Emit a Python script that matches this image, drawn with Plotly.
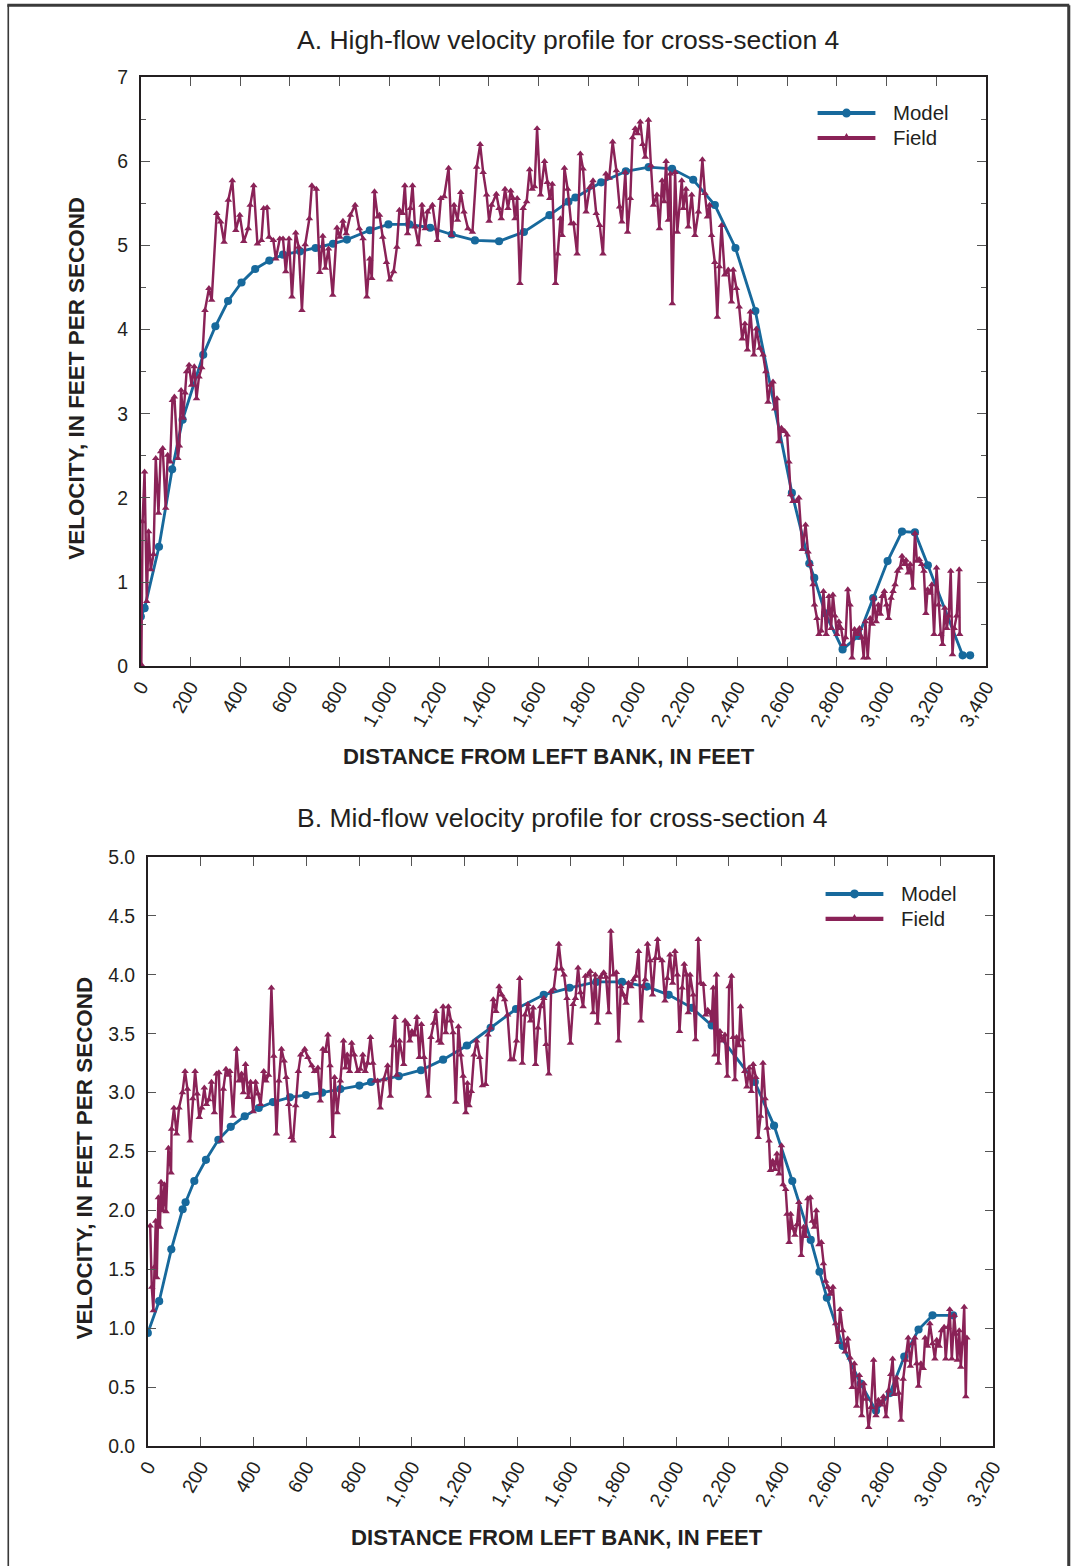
import plotly.graph_objects as go

# ---------------- Panel A: high flow ----------------
model_a_x = [0, 15, 73, 126, 168, 251, 300, 351, 405, 460, 517, 572, 641, 703, 773, 829,
             921, 996, 1080, 1164, 1251, 1344, 1441, 1541, 1644, 1720, 1748, 1852, 1951,
             2043, 2137, 2222, 2309, 2392, 2472, 2619, 2689, 2709, 2753, 2823, 2887, 2946,
             3004, 3062, 3114, 3166, 3306, 3336]
model_a_v = [0.59, 0.69, 1.42, 2.34, 2.93, 3.70, 4.04, 4.34, 4.56, 4.72, 4.82, 4.89, 4.93,
             4.97, 5.02, 5.07, 5.18, 5.25, 5.25, 5.21, 5.13, 5.06, 5.05, 5.16, 5.36, 5.52,
             5.57, 5.75, 5.88, 5.93, 5.91, 5.78, 5.48, 4.97, 4.22, 2.06, 1.22, 1.05, 0.63,
             0.20, 0.36, 0.81, 1.25, 1.60, 1.59, 1.20, 0.13, 0.13]

field_a_x = [2, 7, 15, 24, 31, 40, 51, 60, 71, 80, 88, 100, 108, 118, 127, 135, 149, 155,
             162, 170, 178, 184, 194, 204, 215, 224, 234, 245, 258, 274, 285, 305, 321, 335,
             352, 368, 382, 398, 414, 432, 440, 454, 469, 485, 494, 508, 516, 533, 543, 559,
             572, 583, 596, 608, 623, 635, 648, 661, 678, 688, 706, 720, 732, 742, 755, 772,
             789, 801, 813, 826, 843, 862, 879, 894, 909, 921, 929, 940, 953, 960, 973, 988,
             1001, 1017, 1030, 1040, 1053, 1062, 1073, 1084, 1093, 1103, 1117, 1131, 1144,
             1153, 1173, 1193, 1207, 1220, 1238, 1250, 1260, 1274, 1287, 1300, 1316, 1334,
             1351, 1365, 1377, 1391, 1401, 1411, 1430, 1441, 1450, 1465, 1477, 1488, 1497,
             1505, 1514, 1525, 1538, 1552, 1564, 1574, 1584, 1594, 1608, 1624, 1635, 1645,
             1655, 1668, 1677, 1688, 1695, 1704, 1717, 1731, 1741, 1755, 1768, 1779, 1791,
             1806, 1819, 1832, 1846, 1859, 1871, 1884, 1898, 1913, 1926, 1935, 1949, 1958,
             1969, 1978, 1989, 1998, 2009, 2019, 2029, 2042, 2052, 2062, 2076, 2086, 2097,
             2105, 2113, 2122, 2130, 2138, 2149, 2158, 2176, 2182, 2193, 2202, 2216, 2229,
             2243, 2259, 2269, 2279, 2288, 2296, 2309, 2319, 2327, 2336, 2349, 2363, 2376,
             2383, 2396, 2407, 2419, 2430, 2440, 2452, 2466, 2476, 2490, 2503, 2514, 2523,
             2533, 2543, 2550, 2559, 2567, 2577, 2590, 2600, 2607, 2614, 2623, 2637, 2647,
             2661, 2674, 2684, 2693, 2704, 2710, 2720, 2728, 2737, 2746, 2757, 2768, 2777,
             2784, 2792, 2800, 2808, 2817, 2827, 2835, 2844, 2853, 2861, 2871, 2881, 2891,
             2900, 2908, 2915, 2924, 2934, 2942, 2948, 2958, 2967, 2975, 2982, 2991, 3000,
             3008, 3018, 3026, 3034, 3044, 3054, 3062, 3071, 3078, 3087, 3095, 3105, 3114,
             3122, 3131, 3141, 3150, 3158, 3165, 3174, 3182, 3191, 3201, 3209, 3218, 3225,
             3234, 3242, 3250, 3258, 3265, 3272, 3282, 3292, 3294]
field_a_v = [0.02, 1.72, 2.31, 0.77, 1.60, 1.15, 1.33, 2.47, 1.82, 2.55, 2.59, 1.88, 2.51,
             2.43, 3.16, 3.20, 2.47, 2.62, 3.28, 2.95, 3.25, 3.50, 3.58, 3.34, 3.56, 3.18,
             3.44, 3.55, 4.23, 4.49, 4.35, 5.38, 5.28, 5.04, 5.54, 5.77, 5.18, 5.36, 5.05,
             5.20, 5.48, 5.71, 5.02, 5.06, 5.44, 5.45, 5.10, 5.06, 4.84, 5.08, 5.08, 4.69,
             5.08, 4.39, 5.15, 4.98, 4.23, 5.01, 5.32, 5.71, 5.67, 4.68, 5.11, 4.73, 4.96,
             4.41, 5.21, 5.10, 5.29, 5.14, 5.36, 5.48, 5.20, 5.08, 4.39, 4.84, 4.61, 5.64,
             5.34, 5.36, 5.10, 4.80, 4.59, 4.69, 4.98, 5.42, 5.38, 5.71, 5.14, 5.44, 5.71,
             5.22, 5.01, 5.48, 5.20, 5.40, 5.48, 5.06, 5.56, 5.58, 5.92, 5.12, 5.48, 5.30,
             5.63, 5.40, 5.20, 5.16, 5.93, 6.20, 5.87, 5.60, 5.29, 5.48, 5.61, 5.44, 5.32,
             5.67, 5.44, 5.65, 5.56, 5.32, 5.56, 4.55, 5.44, 5.52, 5.90, 5.67, 5.70, 6.39,
             5.60, 6.00, 5.75, 5.56, 5.73, 4.55, 4.90, 5.32, 5.12, 5.92, 5.67, 5.26, 5.26,
             4.90, 6.09, 5.91, 5.40, 5.69, 5.77, 5.38, 5.24, 4.90, 5.85, 5.80, 6.23, 5.89,
             5.46, 5.28, 5.87, 5.16, 5.56, 6.28, 6.39, 6.33, 6.47, 6.20, 6.05, 6.49, 5.95,
             5.48, 5.60, 5.20, 5.77, 5.52, 6.00, 5.30, 5.85, 4.31, 5.87, 5.16, 5.77, 5.44,
             5.67, 5.22, 5.60, 5.12, 5.40, 6.02, 5.62, 5.34, 5.48, 5.12, 4.80, 4.15, 4.75,
             5.24, 4.65, 4.71, 4.33, 4.71, 4.49, 4.27, 3.89, 4.07, 3.76, 4.21, 3.70, 4.01,
             3.78, 3.70, 3.50, 3.14, 3.34, 3.38, 3.06, 3.18, 2.67, 2.83, 2.79, 2.75, 2.43,
             2.04, 1.96, 1.96, 2.00, 1.39, 1.68, 1.36, 1.21, 0.97, 0.73, 0.57, 0.38, 0.42,
             0.89, 0.38, 0.83, 0.45, 0.85, 0.60, 0.38, 0.53, 0.45, 0.26, 0.34, 0.91, 0.73,
             0.10, 0.44, 0.38, 0.45, 0.34, 0.10, 0.53, 0.10, 0.57, 0.50, 0.81, 0.53, 0.73,
             0.62, 0.83, 0.89, 0.73, 0.57, 0.81, 0.89, 0.97, 1.13, 1.17, 1.31, 1.21, 1.26,
             1.11, 1.21, 0.93, 1.58, 1.25, 1.27, 1.21, 1.13, 0.63, 0.91, 0.87, 0.97, 0.38,
             1.17, 0.73, 0.38, 0.26, 0.69, 0.45, 0.60, 1.13, 0.14, 0.45, 0.60, 1.15, 0.38]

# ---------------- Panel B: mid flow ----------------
model_b_x = [0, 43, 89, 132, 143, 176, 220, 267, 314, 367, 420, 474, 538, 599, 660, 729,
             801, 845, 950, 1034, 1118, 1208, 1298, 1394, 1499, 1597, 1698, 1795, 1889,
             1972, 2060, 2135, 2298, 2371, 2440, 2510, 2543, 2571, 2631, 2699, 2757, 2810,
             2864, 2918, 2971, 3049]
model_b_v = [0.96, 1.23, 1.67, 2.01, 2.07, 2.25, 2.43, 2.60, 2.71, 2.80, 2.87, 2.92, 2.96,
             2.98, 3.00, 3.03, 3.06, 3.09, 3.14, 3.19, 3.28, 3.40, 3.55, 3.71, 3.83, 3.89,
             3.94, 3.94, 3.90, 3.83, 3.72, 3.57, 3.09, 2.72, 2.25, 1.75, 1.48, 1.26, 0.85,
             0.53, 0.30, 0.45, 0.76, 0.99, 1.11, 1.11]

field_b_x = [9, 15, 21, 25, 30, 34, 40, 46, 50, 57, 63, 69, 78, 88, 90, 99, 109, 118, 131,
             141, 150, 160, 170, 179, 187, 195, 204, 214, 222, 231, 241, 252, 260, 269, 277,
             286, 296, 305, 311, 323, 336, 345, 355, 362, 370, 380, 389, 399, 408, 417, 427,
             439, 447, 457, 468, 477, 487, 496, 506, 516, 524, 534, 543, 550, 560, 570, 579,
             594, 606, 621, 631, 644, 653, 663, 672, 682, 690, 700, 707, 717, 729, 741, 748,
             755, 764, 772, 782, 795, 804, 814, 823, 832, 843, 852, 860, 870, 880, 893, 908,
             918, 927, 936, 943, 953, 969, 974, 984, 992, 1000, 1009, 1019, 1028, 1036, 1046,
             1062, 1072, 1082, 1091, 1101, 1110, 1118, 1128, 1138, 1147, 1156, 1166, 1176,
             1185, 1194, 1204, 1210, 1216, 1225, 1235, 1245, 1257, 1267, 1279, 1288, 1298,
             1308, 1318, 1330, 1340, 1351, 1362, 1374, 1384, 1396, 1408, 1418, 1428, 1439,
             1449, 1459, 1468, 1477, 1487, 1499, 1508, 1518, 1527, 1537, 1546, 1556, 1566,
             1576, 1587, 1600, 1610, 1619, 1629, 1638, 1648, 1657, 1667, 1675, 1686, 1694,
             1703, 1714, 1726, 1735, 1745, 1753, 1763, 1774, 1782, 1791, 1801, 1811, 1820,
             1829, 1839, 1848, 1858, 1867, 1875, 1883, 1892, 1902, 1911, 1921, 1930, 1937,
             1947, 1958, 1967, 1977, 1987, 1996, 2005, 2013, 2023, 2031, 2040, 2046, 2053,
             2065, 2074, 2084, 2093, 2103, 2112, 2120, 2128, 2135, 2141, 2147, 2153, 2160,
             2166, 2176, 2185, 2194, 2201, 2210, 2216, 2223, 2229, 2238, 2244, 2251, 2260,
             2268, 2277, 2285, 2292, 2302, 2311, 2320, 2329, 2337, 2345, 2352, 2357, 2366,
             2374, 2382, 2390, 2399, 2405, 2415, 2420, 2428, 2434, 2442, 2450, 2458, 2465,
             2474, 2483, 2490, 2499, 2508, 2516, 2524, 2531, 2541, 2550, 2558, 2566, 2575,
             2584, 2594, 2604, 2613, 2621, 2631, 2640, 2650, 2659, 2667, 2675, 2684, 2694,
             2703, 2711, 2720, 2729, 2738, 2748, 2757, 2766, 2775, 2785, 2795, 2804, 2813,
             2820, 2826, 2835, 2843, 2852, 2860, 2870, 2879, 2887, 2896, 2904, 2911, 2918,
             2927, 2936, 2943, 2952, 2961, 2971, 2980, 2987, 2996, 3005, 3015, 3021, 3030,
             3036, 3044, 3053, 3059, 3065, 3072, 3078, 3084, 3091, 3097, 3101]
field_b_v = [1.87, 1.35, 1.15, 1.52, 1.91, 1.43, 2.11, 1.86, 2.24, 2.00, 2.22, 1.99, 2.53,
             2.32, 2.69, 2.87, 2.65, 2.87, 3.00, 3.18, 3.03, 2.59, 2.95, 3.18, 2.99, 2.79,
             2.87, 3.04, 2.90, 2.94, 3.09, 2.83, 3.16, 3.17, 2.59, 3.03, 3.20, 3.15, 3.18,
             2.80, 3.37, 3.10, 3.16, 3.00, 3.24, 2.96, 3.09, 2.84, 3.09, 2.99, 2.90, 3.18,
             3.10, 3.15, 3.89, 3.31, 2.65, 3.10, 3.37, 3.27, 3.13, 2.90, 2.62, 2.59, 2.89,
             3.18, 3.32, 3.37, 3.30, 3.23, 3.18, 3.21, 2.93, 3.37, 3.35, 3.49, 3.23, 2.63,
             3.13, 2.83, 3.10, 3.44, 3.21, 3.32, 3.18, 3.42, 3.32, 3.18, 3.20, 3.32, 3.18,
             3.25, 3.47, 3.25, 3.10, 3.10, 2.87, 3.11, 3.23, 2.97, 3.40, 3.64, 3.15, 3.44,
             3.24, 3.61, 3.58, 3.44, 3.52, 3.49, 3.64, 3.30, 3.58, 3.30, 2.97, 3.47, 3.59,
             3.69, 3.44, 3.42, 3.73, 3.51, 3.73, 3.61, 3.51, 2.92, 3.56, 3.32, 3.14, 2.83,
             3.08, 2.89, 3.01, 3.32, 3.44, 3.30, 3.06, 3.07, 3.49, 3.55, 3.79, 3.69, 3.90,
             3.83, 3.79, 3.66, 3.28, 3.28, 3.44, 3.97, 3.25, 3.66, 3.75, 3.61, 3.72, 3.24,
             3.55, 3.73, 3.80, 3.41, 3.16, 3.86, 3.88, 4.05, 4.26, 4.05, 4.00, 3.80, 3.42,
             3.75, 3.80, 4.06, 3.85, 3.73, 3.99, 4.00, 4.03, 3.68, 4.00, 3.59, 3.98, 4.02,
             3.98, 3.68, 4.37, 4.00, 4.02, 3.44, 3.90, 3.83, 3.76, 3.93, 3.90, 3.96, 3.99,
             4.20, 3.61, 3.90, 3.96, 4.26, 4.12, 3.83, 4.14, 4.30, 4.14, 4.12, 3.78, 3.97,
             4.17, 3.93, 4.20, 4.00, 3.52, 3.89, 4.09, 4.00, 3.68, 4.00, 3.83, 3.45, 4.30,
             3.93, 3.92, 3.66, 3.70, 3.68, 3.61, 3.89, 3.32, 4.00, 3.25, 3.52, 3.44, 3.49,
             3.14, 3.90, 3.99, 3.47, 3.11, 3.47, 3.40, 3.73, 3.45, 3.18, 3.05, 3.21, 3.01,
             3.24, 3.13, 2.62, 2.80, 3.25, 2.95, 2.70, 2.59, 2.34, 2.42, 2.35, 2.48, 2.31,
             2.55, 2.22, 2.18, 1.97, 1.73, 1.97, 1.85, 1.79, 1.88, 2.07, 1.62, 1.86, 1.78,
             2.10, 2.11, 1.91, 1.86, 2.00, 1.71, 1.73, 1.55, 1.40, 1.35, 1.29, 1.35, 1.04,
             0.88, 1.16, 0.98, 0.80, 0.91, 0.75, 0.50, 0.70, 0.34, 0.60, 0.26, 0.53, 0.40,
             0.16, 0.33, 0.73, 0.26, 0.39, 0.35, 0.42, 0.25, 0.47, 0.61, 0.74, 0.44, 0.58,
             0.45, 0.22, 0.57, 0.73, 0.92, 0.68, 0.87, 0.92, 0.70, 0.51, 0.70, 0.66, 0.92,
             0.85, 1.04, 0.87, 0.74, 0.90, 0.85, 0.98, 1.01, 0.74, 1.01, 1.16, 0.74, 1.11,
             0.95, 0.73, 0.98, 0.67, 0.87, 1.18, 0.42, 0.92]

# axis tick values
ticks_a_x = list(range(0, 3401, 200))
ticks_b_x = list(range(0, 3201, 200))
legend_labels = ["Model", "Field"]

BLUE = "#17699c"
MAROON = "#8a2257"
INK = "#231f20"
FONT = "Liberation Sans, Arial, sans-serif"

# Layout positions below are written in sheet pixels (1073 x 1566 sheet) and
# converted to paper fractions of the graph div, which sits inside the default
# 8 px body margin of the page.
BODY = 8
SX, AX = 0.98, 2.9      # sheet = AX + SX * page  (horizontal)
SY, AY = 0.9874, 0.9    # sheet = AY + SY * page  (vertical)
W = int(round((1073 - AX) / SX)) - 2 * BODY
H = int(round((1566 - AY) / SY)) - 2 * BODY
K = 1 / SX              # size factor for fonts, markers and strokes


def px(x):
    return ((x - AX) / SX - BODY) / W


def py(y):
    return 1 - ((y - AY) / SY - BODY) / H


fig = go.Figure()


def add_pair(mx, mv, fx, fv, xa, ya):
    fig.add_trace(go.Scatter(
        x=mx, y=mv, name=legend_labels[0], mode="lines+markers", xaxis=xa, yaxis=ya,
        line=dict(color=BLUE, width=2.8 * K), marker=dict(symbol="circle", size=8 * K, color=BLUE)))
    fig.add_trace(go.Scatter(
        x=fx, y=fv, name=legend_labels[1], mode="lines+markers", xaxis=xa, yaxis=ya,
        line=dict(color=MAROON, width=2.4 * K),
        marker=dict(symbol="triangle-up", size=6.5 * K, color=MAROON)))


add_pair(model_a_x, model_a_v, field_a_x, field_a_v, "x", "y")
add_pair(model_b_x, model_b_v, field_b_x, field_b_v, "x2", "y2")

common_axis = dict(
    showline=True, linecolor=INK, linewidth=1.6 * K, mirror="ticks", ticks="inside",
    tickcolor="#555555", tickwidth=1.2 * K, showgrid=False, zeroline=False,
    tickfont=dict(family=FONT, size=19 * K, color=INK),
)

fig.update_layout(
    width=W, height=H,
    margin=dict(l=0, r=0, t=0, b=0),
    paper_bgcolor="white", plot_bgcolor="white",
    font=dict(family=FONT, color=INK),
    showlegend=False,
    xaxis=dict(common_axis, domain=[px(139), px(987)], anchor="y", range=[0, 3400],
               tickvals=ticks_a_x, tickformat=",d", ticklen=9 * K, tickangle=-60),
    yaxis=dict(common_axis, domain=[py(665), py(75)], anchor="x", range=[0, 7],
               dtick=1, ticklen=9 * K, ticklabelstandoff=7,
               minor=dict(dtick=0.5, ticks="inside", ticklen=5 * K, tickcolor="#555555")),
    xaxis2=dict(common_axis, domain=[px(146), px(994)], anchor="y2", range=[0, 3200],
                tickvals=ticks_b_x, tickformat=",d", ticklen=9 * K, tickangle=-60),
    yaxis2=dict(common_axis, domain=[py(1446), py(856)], anchor="x2", range=[0, 5],
                dtick=0.5, tickformat=".1f", ticklen=8 * K, ticklabelstandoff=7),
)

annos = [
    dict(text="A. High-flow velocity profile for cross-section 4", x=px(568), y=py(38),
         font=dict(size=26 * K)),
    dict(text="B. Mid-flow velocity profile for cross-section 4", x=px(562), y=py(817),
         font=dict(size=26 * K)),
    dict(text="<b>DISTANCE FROM LEFT BANK, IN FEET</b>", x=px(549), y=py(755),
         font=dict(size=21.7 * K)),
    dict(text="<b>DISTANCE FROM LEFT BANK, IN FEET</b>", x=px(557), y=py(1537),
         font=dict(size=21.7 * K)),
    dict(text="<b>VELOCITY, IN FEET PER SECOND</b>", x=px(75), y=py(377), textangle=-90,
         font=dict(size=22 * K)),
    dict(text="<b>VELOCITY, IN FEET PER SECOND</b>", x=px(83), y=py(1158), textangle=-90,
         font=dict(size=22 * K)),
]
for a in annos:
    a.update(xref="paper", yref="paper", xanchor="center", yanchor="middle", showarrow=False)
    a["font"] = dict(family=FONT, color=INK, **a["font"])
    fig.add_annotation(**a)


# legend boxes (line sample + symbol + label)
def add_legend(x_left, y_top, gap):
    colors = [BLUE, MAROON]
    for i, label in enumerate(legend_labels):
        yy = y_top + i * gap
        fig.add_shape(type="line", xref="paper", yref="paper",
                      x0=px(x_left), x1=px(x_left + 58), y0=py(yy), y1=py(yy),
                      line=dict(color=colors[i], width=4 * K))
        cx = x_left + 29
        if i == 0:
            fig.add_shape(type="circle", xref="paper", yref="paper",
                          x0=px(cx - 4.5), x1=px(cx + 4.5), y0=py(yy + 4.5), y1=py(yy - 4.5),
                          fillcolor=colors[i], line=dict(color=colors[i], width=0))
        else:
            fig.add_shape(type="path", xref="paper", yref="paper",
                          path=f"M {px(cx - 3.5)} {py(yy + 1)} L {px(cx + 3.5)} {py(yy + 1)} "
                               f"L {px(cx)} {py(yy - 5)} Z",
                          fillcolor=colors[i], line=dict(color=colors[i], width=0))
        fig.add_annotation(text=label, xref="paper", yref="paper", x=px(x_left + 74),
                           y=py(yy), xanchor="left", yanchor="middle", showarrow=False,
                           font=dict(family=FONT, size=20 * K, color=INK))


add_legend(818, 111, 25)
add_legend(826, 893, 25)

# sheet frame: thin left edge, heavier top and right edges
frame = dict(xref="paper", yref="paper", type="line")
fig.add_shape(**frame, x0=px(6), x1=px(6), y0=py(3), y1=-0.02,
              line=dict(color="#3a3a3a", width=1.6 * K))
fig.add_shape(**frame, x0=px(5), x1=px(1070.5), y0=py(3), y1=py(3),
              line=dict(color="#3a3a3a", width=3 * K))
fig.add_shape(**frame, x0=px(1070), x1=px(1070), y0=py(3), y1=-0.02,
              line=dict(color="#3a3a3a", width=3 * K))

fig.write_html("out.html")
